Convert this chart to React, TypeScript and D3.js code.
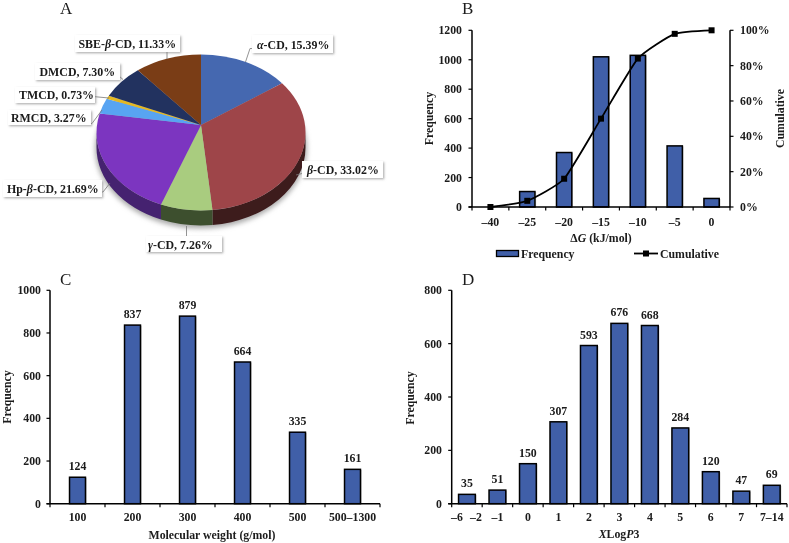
import React from "react";
import * as d3 from "d3";

const pieNames = ["α-CD", "β-CD", "γ-CD", "Hp-β-CD", "RMCD", "TMCD", "DMCD", "SBE-β-CD"];
const pieValues = [15.39, 33.02, 7.26, 21.69, 3.27, 0.73, 7.3, 11.33];
const pieColors = ["#4467B0", "#9E444A", "#A9CC7F", "#7B35C0", "#58A4F2", "#E4B822", "#22315F", "#7A3D17"];
const pieWalls = ["#2a3f6e", "#3e1a1c", "#3d4f2e", "#45236f", "#365f8f", "#8a7015", "#141d3a", "#4a250e"];

const bCats = ["–40", "–25", "–20", "–15", "–10", "–5", "0"];
const bFreq = [0, 105, 370, 1020, 1030, 415, 58];
const bCum = [0, 3.5, 16, 50, 84, 98, 100];
const bTicks = [0, 200, 400, 600, 800, 1000, 1200];
const bPct = [0, 20, 40, 60, 80, 100];

const cCats = ["100", "200", "300", "400", "500", "500–1300"];
const cFreq = [124, 837, 879, 664, 335, 161];
const cTicks = [0, 200, 400, 600, 800, 1000];

const dCats = ["", "–1", "0", "1", "2", "3", "4", "5", "6", "7", "7–14"];
const dFreq = [35, 51, 150, 307, 593, 676, 668, 284, 120, 47, 69];
const dTicks = [0, 200, 400, 600, 800];

const FONT = "'Liberation Serif', 'Times New Roman', serif";
const BAR = "#3F5FA8";
const FS = 11.8;

// Label layout: text x, baseline, box [x0,y0,x1,y1], leader polyline
const labelLayout = [
  { x: 257, y: 49, box: [252, 35, 333, 53], lead: [[245.5, 62], [250, 48.5], [254, 48.5]] },
  { x: 307, y: 174, box: [302, 161, 383, 178], lead: [[296, 175], [302, 173.5], [306, 173.5]] },
  { x: 148, y: 249, box: [146, 236, 222, 252], lead: [[186.5, 226], [186.5, 236]] },
  { x: 7, y: 193, box: [3, 180, 102, 197], lead: [[110, 183], [103, 192], [98, 192]] },
  { x: 11, y: 122, box: [8, 110, 91, 125], lead: [[102, 110], [92, 123.5], [87, 123.5]] },
  { x: 19, y: 99, box: [15, 87, 95, 103], lead: [[109, 98], [93, 96.5]] },
  { x: 39.5, y: 75.5, box: [35, 63, 120, 80], lead: [[123, 79.5], [119, 76], [114, 76]] },
  { x: 78.5, y: 48, box: [75, 35, 180, 52], lead: [[167, 59], [167, 52]] },
];

function RichLabel({ text, ...rest }: any) {
  const parts = text.split(/([αβγ])/);
  return (
    <text {...rest}>
      {parts.map((p: string, i: number) =>
        /[αβγ]/.test(p) ? <tspan key={i} fontStyle="italic">{p}</tspan> : <tspan key={i}>{p}</tspan>
      )}
    </text>
  );
}

function Pie3D() {
  const cx = 201, cy = 132.5, rx = 104.5, ry = 78, depth = 15;
  const apex: [number, number] = [201, 125];
  const k = 0.905;
  const arcs = d3.pie<number>().sort(null).startAngle(0).endAngle(2 * Math.PI)(pieValues);
  // perspective: true pie angle -> parameter on the projected ellipse
  const proj = (a: number) => {
    const turns = Math.round(a / (2 * Math.PI));
    const r = a - turns * 2 * Math.PI;
    if (Math.abs(Math.abs(r) - Math.PI) < 1e-6) return a;
    return 2 * Math.atan(k * Math.tan(r / 2)) + turns * 2 * Math.PI;
  };
  const pt = (t: number, dy = 0): [number, number] => [cx + rx * Math.sin(t), cy - ry * Math.cos(t) + dy];
  const top = arcs.map((d) => {
    const t0 = proj(d.startAngle), t1 = proj(d.endAngle);
    const p0 = pt(t0), p1 = pt(t1);
    const large = t1 - t0 > Math.PI ? 1 : 0;
    return `M${apex}L${p0}A${rx},${ry} 0 ${large} 1 ${p1}Z`;
  });
  const walls = arcs.map((d) => {
    const t0 = Math.max(proj(d.startAngle), Math.PI / 2);
    const t1 = Math.min(proj(d.endAngle), (3 * Math.PI) / 2);
    if (t1 <= t0) return null;
    return `M${pt(t0)}A${rx},${ry} 0 0 1 ${pt(t1)}L${pt(t1, depth)}A${rx},${ry} 0 0 0 ${pt(t0, depth)}Z`;
  });
  return (
    <g>
      <defs>
        <filter id="blurS" x="-20%" y="-20%" width="140%" height="140%"><feGaussianBlur stdDeviation="2.5" /></filter>
        <filter id="boxS" x="-10%" y="-20%" width="125%" height="150%"><feDropShadow dx="1.2" dy="1.2" stdDeviation="1" floodColor="#777" floodOpacity="0.6" /></filter>
        <filter id="soft" x="0" y="0" width="100%" height="100%"><feGaussianBlur stdDeviation="0.3" /></filter>
      </defs>
      <ellipse cx={cx} cy={cy + 16} rx={rx + 1.5} ry={ry + 2} fill="#aaa" filter="url(#blurS)" />
      {walls.map((w, i) => w && <path key={i} d={w} fill={pieWalls[i]} />)}
      {top.map((p, i) => <path key={i} d={p} fill={pieColors[i]} />)}
      {labelLayout.map((l, i) => (
        <g key={i}>
          <polyline points={l.lead.join(" ")} fill="none" stroke="#777" strokeWidth={0.8} />
          <rect x={l.box[0]} y={l.box[1]} width={l.box[2] - l.box[0]} height={l.box[3] - l.box[1]} fill="#fff" filter="url(#boxS)" />
          <RichLabel text={`${pieNames[i]}, ${pieValues[i].toFixed(2)}%`} x={l.x} y={l.y} fontSize={11.9} fontWeight="bold" fill="#1a1a1a" />
        </g>
      ))}
    </g>
  );
}

function Axes({ x, y, x0, x1, y0, y1, ticks, labelEnd, xBase, cats }: any) {
  const step = x.step();
  return (
    <g>
      {cats.map((_: string, i: number) => (
        <line key={i} x1={x0 + step * i} x2={x0 + step * i} y1={y0} y2={y0 + 3.5} stroke="#000" strokeWidth={1.2} />
      ))}
      <line x1={x1} x2={x1} y1={y0} y2={y0 + 3.5} stroke="#000" strokeWidth={1.2} />
      {ticks.map((t: number) => (
        <g key={t}>
          <line x1={x0 - 3.5} x2={x0} y1={y(t)} y2={y(t)} stroke="#000" strokeWidth={1.2} />
          <text x={labelEnd} y={y(t) + 4} textAnchor="end" fontSize={FS} fontWeight="bold" fill="#1a1a1a">{t}</text>
        </g>
      ))}
      <line x1={x0} x2={x0} y1={y1} y2={y0} stroke="#000" strokeWidth={1.5} />
      <line x1={x0 - 3.5} x2={x1} y1={y0} y2={y0} stroke="#000" strokeWidth={1.5} />
      {cats.map((c: string) => (
        <text key={c} x={x(c)! + x.bandwidth() / 2} y={xBase} textAnchor="middle" fontSize={FS} fontWeight="bold" fill="#1a1a1a">{c}</text>
      ))}
    </g>
  );
}

function Bars({ x, y, cats, vals, y0, labels }: any) {
  return (
    <g>
      {vals.map((v: number, i: number) => v > 0 && (
        <g key={i}>
          <rect x={x(cats[i])! + 1.2} y={y(v) + 0.5} width={x.bandwidth()} height={y0 - y(v) - 0.5} fill="#c4c4c4" />
          <rect x={x(cats[i])!} y={y(v)} width={x.bandwidth()} height={y0 - y(v)} fill={BAR} stroke="#000" strokeWidth={1.5} />
          {labels && (
            <text x={x(cats[i])! + x.bandwidth() / 2} y={y(v) - 7} textAnchor="middle" fontSize={FS} fontWeight="bold" fill="#1a1a1a">{v}</text>
          )}
        </g>
      ))}
    </g>
  );
}

function YTitle({ x, y, children }: any) {
  return <text transform={`translate(${x},${y}) rotate(-90)`} textAnchor="middle" fontSize={FS} fontWeight="bold" fill="#1a1a1a">{children}</text>;
}

function PanelB() {
  const x0 = 472, x1 = 730, y0 = 207, y1 = 30.3;
  const x = d3.scaleBand<string>().domain(bCats).range([x0, x1]).paddingInner(0.585).paddingOuter(0.2925);
  const y = d3.scaleLinear().domain([0, 1200]).range([y0, y1]);
  const yc = d3.scaleLinear().domain([0, 100]).range([y0, y1]);
  const cx = (i: number) => x(bCats[i])! + x.bandwidth() / 2;
  const line = d3.line<number>().x((_, i) => cx(i)).y((d) => yc(d)).curve(d3.curveCardinal.tension(0.5));
  return (
    <g>
      <Bars x={x} y={y} cats={bCats} vals={bFreq} y0={y0} />
      <Axes x={x} y={y} x0={x0} x1={x1} y0={y0} y1={y1} ticks={bTicks} labelEnd={462} xBase={226} cats={bCats} />
      <line x1={x1} x2={x1} y1={y1} y2={y0} stroke="#000" strokeWidth={1.5} />
      {bPct.map((t) => (
        <g key={t}>
          <line x1={x1} x2={x1 + 3.5} y1={yc(t)} y2={yc(t)} stroke="#000" strokeWidth={1.2} />
          <text x={740} y={yc(t) + 4} fontSize={FS} fontWeight="bold" fill="#1a1a1a">{t}%</text>
        </g>
      ))}
      <path d={line(bCum)!} fill="none" stroke="#000" strokeWidth={1.8} />
      {bCum.map((v, i) => <rect key={i} x={cx(i) - 3} y={yc(v) - 3} width={6} height={6} fill="#000" />)}
      <YTitle x={433} y={118.5}>Frequency</YTitle>
      <YTitle x={784} y={118.5}>Cumulative</YTitle>
      <text x={601} y={242} textAnchor="middle" fontSize={FS} fontWeight="bold" fill="#1a1a1a">
        <tspan>Δ</tspan><tspan fontStyle="italic">G</tspan><tspan> (kJ/mol)</tspan>
      </text>
      <rect x={496.5} y={250.5} width={22} height={6} fill={BAR} stroke="#000" strokeWidth={1.3} />
      <text x={521} y={258} fontSize={FS} fontWeight="bold" fill="#1a1a1a">Frequency</text>
      <line x1={634} x2={658} y1={253.5} y2={253.5} stroke="#000" strokeWidth={1.8} />
      <rect x={643} y={250.5} width={6} height={6} fill="#000" />
      <text x={660} y={258} fontSize={FS} fontWeight="bold" fill="#1a1a1a">Cumulative</text>
    </g>
  );
}

function PanelC() {
  const x0 = 50, x1 = 380, y0 = 503.7, y1 = 290.3;
  const x = d3.scaleBand<string>().domain(cCats).range([x0, x1]).paddingInner(0.71).paddingOuter(0.355);
  const y = d3.scaleLinear().domain([0, 1000]).range([y0, y1]);
  return (
    <g>
      <Bars x={x} y={y} cats={cCats} vals={cFreq} y0={y0} labels />
      <Axes x={x} y={y} x0={x0} x1={x1} y0={y0} y1={y1} ticks={cTicks} labelEnd={41} xBase={521} cats={cCats} />
      <YTitle x={11} y={397}>Frequency</YTitle>
      <text x={212} y={539} textAnchor="middle" fontSize={FS} fontWeight="bold" fill="#1a1a1a">Molecular weight (g/mol)</text>
    </g>
  );
}

function PanelD() {
  const x0 = 451.7, x1 = 787, y0 = 503.7, y1 = 290.3;
  const x = d3.scaleBand<string>().domain(dCats).range([x0, x1]).paddingInner(0.45).paddingOuter(0.225);
  const y = d3.scaleLinear().domain([0, 800]).range([y0, y1]);
  return (
    <g>
      <Bars x={x} y={y} cats={dCats} vals={dFreq} y0={y0} labels />
      <Axes x={x} y={y} x0={x0} x1={x1} y0={y0} y1={y1} ticks={dTicks} labelEnd={442} xBase={521} cats={dCats} />
      <text x={457} y={521} textAnchor="middle" fontSize={FS} fontWeight="bold" fill="#1a1a1a">–6</text>
      <text x={476} y={521} textAnchor="middle" fontSize={FS} fontWeight="bold" fill="#1a1a1a">–2</text>
      <YTitle x={414} y={398}>Frequency</YTitle>
      <text x={619} y={538} textAnchor="middle" fontSize={FS} fontWeight="bold" fill="#1a1a1a">
        <tspan fontStyle="italic">X</tspan><tspan>Log</tspan><tspan fontStyle="italic">P</tspan><tspan>3</tspan>
      </text>
    </g>
  );
}

export default function App() {
  const title = (t: string, x: number, y: number) => (
    <text x={x} y={y} fontSize={17} fill="#1a1a1a">{t}</text>
  );
  return (
    <svg width={789} height={543} fontFamily={FONT} style={{ position: "absolute", left: 0, top: 0, background: "#fff" }}>
      <g filter="url(#soft)">
        <rect width={789} height={543} fill="#fff" />
        <Pie3D />
        <PanelB />
        <PanelC />
        <PanelD />
        {title("A", 60, 14)}
        {title("B", 462, 14)}
        {title("C", 60, 285)}
        {title("D", 462, 285)}
      </g>
    </svg>
  );
}
